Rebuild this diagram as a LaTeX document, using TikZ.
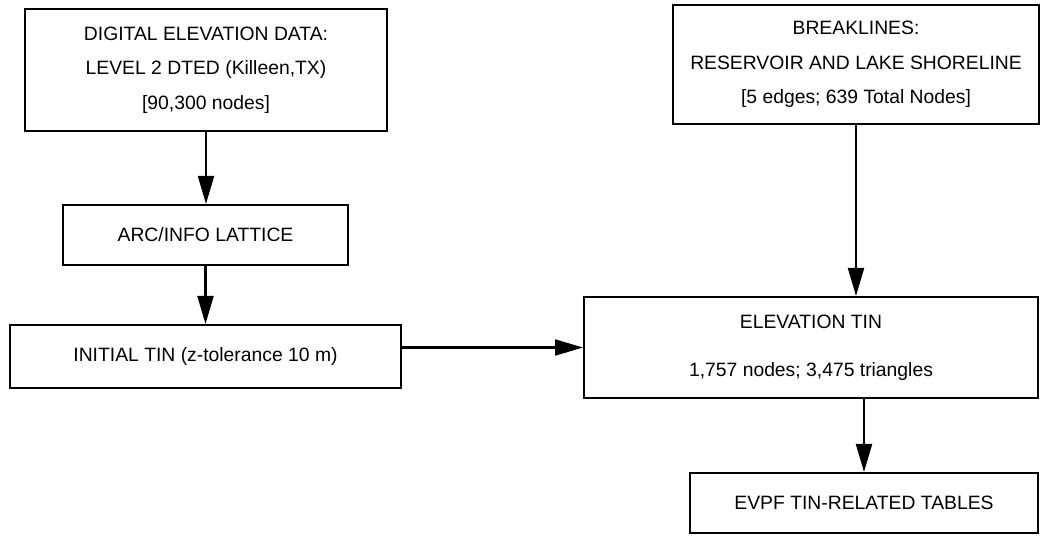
\documentclass[tikz,border=0pt]{standalone}
\usepackage{fontspec}
\setmainfont{Liberation Sans}
\usetikzlibrary{arrows.meta,positioning}
\tikzset{
    stage/.style={
        rectangle,
        draw=black,
        line width=1.2pt,
        align=center,
        inner sep=0pt,
        font=\fontsize{11}{19.5}\selectfont
    },
    arrow/.style={-{Triangle[length=5.6mm,width=3.2mm]},line width=1.2pt,draw=black}
}

\begin{document}
\begin{tikzpicture}[x=0.02cm,y=-0.02cm]
    \useasboundingbox (0,0) rectangle (1041,535);
    % left column
    \node[stage, minimum width=7.24cm, minimum height=2.44cm] (dem) at (206,70)
        {DIGITAL ELEVATION DATA:\\ LEVEL 2 DTED (Killeen,TX)\\ {[}90,300 nodes{]}};
    \node[stage, minimum width=5.7cm, minimum height=1.2cm] (arc) at (205.5,235)
        {ARC/INFO LATTICE};
    \node[stage, minimum width=7.82cm, minimum height=1.26cm] (init) at (205.5,356.5)
        {INITIAL TIN (z-tolerance 10 m)};
    % right column
    \node[stage, minimum width=7.32cm, minimum height=2.38cm] (brk) at (856,64.5)
        {BREAKLINES:\\ RESERVOIR AND LAKE SHORELINE\\ {[}5 edges; 639 Total Nodes{]}};
    \node[stage, minimum width=9.08cm, minimum height=2.02cm] (elev) at (811,347.5)
        {ELEVATION TIN\\[8pt] 1,757 nodes; 3,475 triangles};
    \node[stage, minimum width=6.96cm, minimum height=1.2cm] (evpf) at (864,503)
        {EVPF TIN-RELATED TABLES};

    \draw[arrow] (dem.south) -- (dem.south |- arc.north);
    \draw[arrow] (arc.south) -- (arc.south |- init.north);
    \draw[arrow] (init.east |- elev.west) -- (elev.west);
    \draw[arrow] (brk.south) -- (brk.south |- elev.north);
    \draw[arrow] (evpf.north |- elev.south) -- (evpf.north);
\end{tikzpicture}
\end{document}
